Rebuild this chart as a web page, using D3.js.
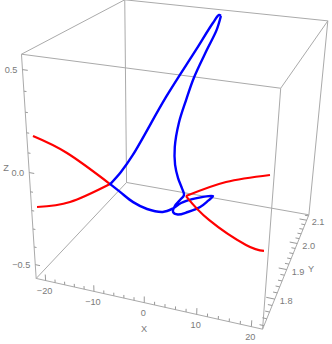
<!DOCTYPE html>
<html><head><meta charset="utf-8">
<script src="https://cdn.jsdelivr.net/npm/d3@7"></script>
<style>html,body{margin:0;background:#fff}svg{display:block}text{font-family:"Liberation Sans",sans-serif;font-size:9.2px;fill:#7a7a7a}</style></head>
<body><svg id="chart" width="332" height="344"></svg>
<script>
const xDomain = [-22, 22], yDomain = [1.71, 2.125], zDomain = [-0.58, 0.57];
const xTicks = [-20, -10, 0, 10, 20];
const yTicks = [1.8, 1.9, 2.0, 2.1];
const zTicks = [-0.5, 0, 0.5];

// red arms, x y z
const leftUpperX = [-22.03, -16.01, -8.74];
const leftUpperY = [1.73, 1.74, 1.76];
const leftUpperZ = [0.162, 0.091, -0.06];
const leftLowerX = [-22.11, -15.83, -8.74];
const leftLowerY = [1.73, 1.74, 1.76];
const leftLowerZ = [-0.209, -0.164, -0.06];
const rightUpperX = [5.37, 12.11, 19.43];
const rightUpperY = [1.77, 1.785, 1.8];
const rightUpperZ = [-0.067, 0.018, 0.069];
const rightLowerX = [5.37, 9.45, 16.22, 19.35];
const rightLowerY = [1.77, 1.78, 1.79, 1.8];
const rightLowerZ = [-0.067, -0.185, -0.297, -0.327];

// blue loop, starts and ends at the top tip
const blueX = [1.1,1,0.4,-1.3,-5.5,-9.1,-9.8,-8.7,-8.7,-6.8,-4.7,-2.4,-0.1,1.1,2,3.5,4.8,6.4,5.7,4.5,2.7,1.4,0.8,1.5,3.2,5,3.5,1.3,-0.8,-2.4,-3.1,-3.1,-2.6,-1,0.3,1.1];
const blueY = [2.08,2.07,2.05,2,1.95,1.87,1.83,1.76,1.76,1.76,1.77,1.78,1.8,1.82,1.84,1.86,1.88,1.9,1.89,1.88,1.86,1.84,1.83,1.82,1.8,1.77,1.8,1.84,1.88,1.92,1.96,2,2.03,2.06,2.08,2.08];
const blueZ = [0.568,0.579,0.548,0.435,0.21,-0.039,-0.088,-0.06,-0.06,-0.092,-0.149,-0.188,-0.22,-0.223,-0.215,-0.213,-0.222,-0.235,-0.253,-0.28,-0.29,-0.283,-0.258,-0.207,-0.139,-0.063,-0.073,-0.082,-0.069,-0.023,0.066,0.155,0.254,0.39,0.489,0.568];

const sx = d3.scaleLinear().domain(xDomain).range([0, 1]);
const sy = d3.scaleLinear().domain(yDomain).range([0, 1]);
const sz = d3.scaleLinear().domain(zDomain).range([0, 1]);

// box corners on screen, used to fit the perspective camera
const corners = [[0,0,0,36,279],[1,0,0,262,329],[0,1,0,127,182],[1,1,0,309,215],[0,0,1,22,54],[1,0,1,281,88],[0,1,1,124,0],[1,1,1,328,21]];

function fitCamera() {
  const A = [], b = [];
  corners.forEach(([u,v,w,px,py]) => {
    A.push([u,v,w,1,0,0,0,0,-px*u,-px*v,-px*w]); b.push(px);
    A.push([0,0,0,0,u,v,w,1,-py*u,-py*v,-py*w]); b.push(py);
  });
  const n = 11;
  const M = d3.range(n).map(i => d3.range(n+1).map(j => d3.sum(A, (r,k) => r[i]*(j<n ? r[j] : b[k]))));
  for (let i = 0; i < n; i++) {
    let p = i;
    for (let r = i; r < n; r++) if (Math.abs(M[r][i]) > Math.abs(M[p][i])) p = r;
    [M[i], M[p]] = [M[p], M[i]];
    for (let r = 0; r < n; r++) if (r !== i) {
      const f = M[r][i] / M[i][i];
      for (let c = i; c <= n; c++) M[r][c] -= f * M[i][c];
    }
  }
  return d3.range(n).map(i => M[i][n] / M[i][i]);
}
const P = fitCamera();

function project(x, y, z) {
  const u = sx(x), v = sy(y), w = sz(z), d = P[8]*u + P[9]*v + P[10]*w + 1;
  return [(P[0]*u + P[1]*v + P[2]*w + P[3]) / d, (P[4]*u + P[5]*v + P[6]*w + P[7]) / d];
}

const svg = d3.select('#chart');
const [x0, x1] = xDomain, [y0, y1] = yDomain, [z0, z1] = zDomain;

const edges = [
  [[x0,y0,z1],[x0,y1,z1]], [[x0,y1,z1],[x1,y1,z1]], [[x1,y1,z1],[x1,y0,z1]], [[x1,y0,z1],[x0,y0,z1]],
  [[x0,y0,z0],[x1,y0,z0]], [[x1,y0,z0],[x1,y1,z0]], [[x1,y1,z0],[x0,y1,z0]], [[x0,y1,z0],[x0,y0,z0]],
  [[x0,y0,z0],[x0,y0,z1]], [[x1,y0,z0],[x1,y0,z1]], [[x1,y1,z0],[x1,y1,z1]], [[x0,y1,z0],[x0,y1,z1]]
];

function seg(a, b, color) {
  const p = project(...a), q = project(...b);
  svg.append('line').attr('x1', p[0]).attr('y1', p[1]).attr('x2', q[0]).attr('y2', q[1])
    .attr('stroke', color || '#aaa').attr('stroke-width', 1);
}
edges.forEach(e => seg(e[0], e[1]));

// ticks, major and minor
d3.range(-20, 20.1, 2).forEach(v => {
  const major = v % 10 === 0;
  seg([v,y0,z0], [v,y0,z0 + (major ? 0.035 : 0.018)], '#999');
});
d3.range(1.72, 2.121, 0.02).forEach(v => {
  const major = Math.abs(v*10 - Math.round(v*10)) < 0.01;
  seg([x1,v,z0], [x1 - (major ? 1.6 : 0.8),v,z0], '#999');
});
d3.range(-5, 5.1, 1).forEach(i => {
  seg([x0,y0,i/10], [x0 + (i % 5 === 0 ? 1 : 0.5),y0,i/10], '#999');
});

const fmt = d3.format('.1f');
function label(text, px, py, anchor) {
  svg.append('text').attr('x', px).attr('y', py).attr('dy', '0.35em')
    .attr('text-anchor', anchor || 'middle').text(text);
}
xTicks.forEach(v => { const p = project(v,y0,z0); label(String(v).replace('-', '\u2212'), p[0] - 1, p[1] + 10); });
yTicks.forEach(v => { const p = project(x1,v,z0); label(fmt(v), p[0] + 5, p[1] + 2, 'start'); });
zTicks.forEach(v => { const p = project(x0,y0,v); label(fmt(v).replace('-', '\u2212'), p[0] - 5, p[1], 'end'); });
label('X', 144, 329);
label('Y', 311, 269);
label('Z', 6, 168);

const redLine = d3.line().curve(d3.curveNatural);
const blueLine = d3.line().curve(d3.curveCatmullRom);
function curve(xs, ys, zs, gen, color, width) {
  svg.append('path').attr('d', gen(xs.map((x, i) => project(x, ys[i], zs[i]))))
    .attr('fill', 'none').attr('stroke', color).attr('stroke-width', width).attr('stroke-linejoin', 'round');
}
curve(leftUpperX, leftUpperY, leftUpperZ, redLine, '#f00', 2.2);
curve(leftLowerX, leftLowerY, leftLowerZ, redLine, '#f00', 2.2);
curve(blueX, blueY, blueZ, blueLine, '#00f', 2.4);
curve(rightUpperX, rightUpperY, rightUpperZ, redLine, '#f00', 2.2);
curve(rightLowerX, rightLowerY, rightLowerZ, redLine, '#f00', 2.2);
</script></body></html>
